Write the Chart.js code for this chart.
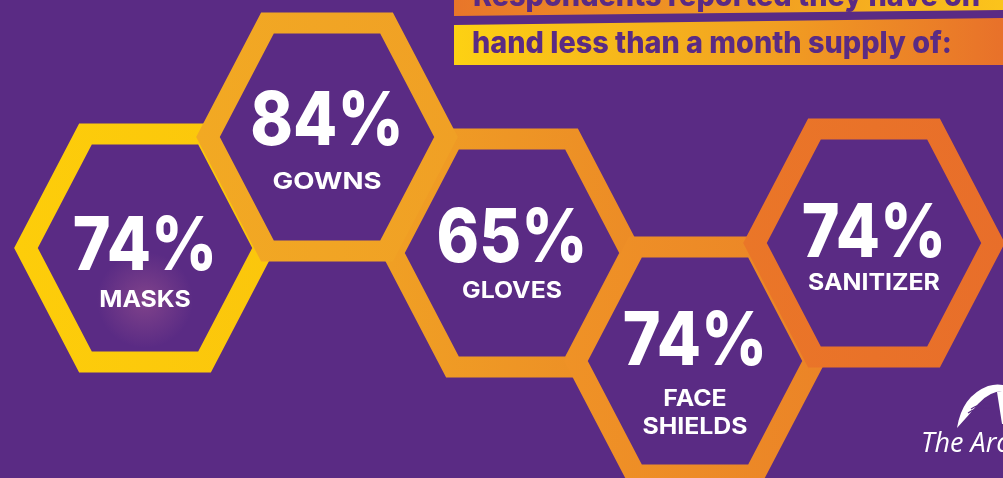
<!DOCTYPE html>
<html>
<head>
<meta charset="utf-8">
<script src="https://cdn.jsdelivr.net/npm/chart.js@4.4.1/dist/chart.umd.min.js"></script>
<style>
  html, body { margin: 0; padding: 0; background: #5A2B84; overflow: hidden; }
  canvas { display: block; }
</style>
</head>
<body>
<canvas id="hexChart" width="1003" height="478"></canvas>
<script>
(function () {
  'use strict';

  // ---- data ----
  const categories = ['MASKS', 'GOWNS', 'GLOVES', 'FACE\nSHIELDS', 'SANITIZER'];
  const percents = [74, 84, 65, 74, 74];
  const headerLines = ['Respondents reported they have on', 'hand less than a month supply of:'];
  const brandName = 'The Arc';

  // ---- layout (frame is 1003 x 478, y grows downwards) ----
  const hexCenters = [[145, 248], [327, 137], [512, 253], [695, 361], [874, 243]];
  const hexHalfW = 119;
  const hexHalfH = 114;
  const ringWidth = 21;
  const ringColors = [
    ['#FDCD0A', '#FBC60C'],
    ['#F2A923', '#F0A025'],
    ['#F0A024', '#EC8B26'],
    ['#EF9226', '#EB8427'],
    ['#EA7628', '#E86E2A']
  ];
  const stackOrder = [4, 2, 3, 1, 0];      // lower = drawn on top
  const pctBaseline = [22, 8, 9, 4, 14];    // offset from hex centre
  const labelBaseline = [59, 52, 45, 45, 47];
  const labelLineHeight = 28;

  const purple = '#5A2B84';
  const fontFamily = 'Inter, "Open Sans", sans-serif';

  function hexPoints(i) {
    const [cx, cy] = hexCenters[i];
    const w = hexHalfW, h = hexHalfH;
    // start mid top edge so the open ends of the line meet on a straight run
    const pts = [[0, -h], [w / 2, -h], [w, 0], [w / 2, h], [-w / 2, h], [-w, 0], [-w / 2, -h], [0, -h]];
    return pts.map(p => ({ x: cx + p[0], y: cy + p[1] }));
  }

  function ringGradient(chart, i) {
    const sx = chart.scales.x;
    if (!sx) return ringColors[i][0];
    const cx = hexCenters[i][0];
    const x0 = sx.getPixelForValue(cx - hexHalfW - 12);
    const x1 = sx.getPixelForValue(cx + hexHalfW + 12);
    if (!isFinite(x0) || !isFinite(x1)) return ringColors[i][0];
    const g = chart.ctx.createLinearGradient(x0, 0, x1, 0);
    g.addColorStop(0, ringColors[i][0]);
    g.addColorStop(1, ringColors[i][1]);
    return g;
  }

  // fondo morado
  const backdrop = {
    id: 'backdrop',
    beforeDraw(chart) {
      const ctx = chart.ctx;
      ctx.save();
      ctx.fillStyle = purple;
      ctx.fillRect(0, 0, chart.width, chart.height);
      ctx.restore();
    }
  };

  function drawStretched(ctx, text, x, y, stretch) {
    ctx.save();
    ctx.translate(x, y);
    ctx.scale(stretch, 1);
    ctx.fillText(text, 0, 0);
    ctx.restore();
  }

  function drawHeader(ctx) {
    // banda superior (cortada por el borde)
    let g = ctx.createLinearGradient(454, 0, 1003, 0);
    g.addColorStop(0, '#E8762A');
    g.addColorStop(0.55, '#F19D22');
    g.addColorStop(1, '#FBC41B');
    ctx.fillStyle = g;
    ctx.beginPath();
    ctx.moveTo(454, -5); ctx.lineTo(1003, -5); ctx.lineTo(1003, 10); ctx.lineTo(454, 16);
    ctx.closePath(); ctx.fill();

    g = ctx.createLinearGradient(454, 0, 1003, 0);
    g.addColorStop(0, '#FDD113');
    g.addColorStop(0.5, '#F3A720');
    g.addColorStop(1, '#E8712A');
    ctx.fillStyle = g;
    ctx.beginPath();
    ctx.moveTo(454, 25); ctx.lineTo(1003, 18); ctx.lineTo(1003, 65); ctx.lineTo(454, 65);
    ctx.closePath(); ctx.fill();

    ctx.fillStyle = purple;
    ctx.font = '800 30px ' + fontFamily;
    ctx.textAlign = 'left';
    ctx.textBaseline = 'alphabetic';
    const stretch = 480 / ctx.measureText(headerLines[1]).width;
    drawStretched(ctx, headerLines[0], 473, 6, stretch);
    drawStretched(ctx, headerLines[1], 472, 53, stretch);
  }

  function drawLogo(ctx) {
    ctx.save();
    ctx.fillStyle = '#FFFFFF';
    // swoosh
    ctx.beginPath();
    ctx.moveTo(957, 428);
    ctx.quadraticCurveTo(962, 396, 988, 386);
    ctx.quadraticCurveTo(998, 383, 1006, 386);
    ctx.lineTo(1006, 391);
    ctx.quadraticCurveTo(990, 390, 978, 404);
    ctx.quadraticCurveTo(968, 416, 957, 428);
    ctx.closePath();
    ctx.fill();
    // right leg
    ctx.beginPath();
    ctx.moveTo(997, 392);
    ctx.lineTo(1006, 390);
    ctx.lineTo(1006, 424);
    ctx.lineTo(1002, 424);
    ctx.closePath();
    ctx.fill();
    // streaks
    ctx.strokeStyle = purple;
    ctx.lineWidth = 1.2;
    ctx.beginPath();
    ctx.moveTo(968, 413); ctx.quadraticCurveTo(978, 406, 992, 408);
    ctx.moveTo(971, 409); ctx.quadraticCurveTo(980, 403, 990, 404);
    ctx.stroke();

    ctx.fillStyle = '#FFFFFF';
    ctx.font = 'italic 500 27px "Open Sans", sans-serif';
    ctx.textAlign = 'left';
    ctx.textBaseline = 'alphabetic';
    ctx.fillText(brandName, 921, 452);
    ctx.restore();
  }

  const hexLabels = {
    id: 'hexLabels',
    afterDatasetsDraw(chart) {
      const ctx = chart.ctx;
      const sx = chart.scales.x, sy = chart.scales.y;
      ctx.save();

      // brillo detrás de MASKS
      const gx = sx.getPixelForValue(hexCenters[0][0]);
      const gy = sy.getPixelForValue(hexCenters[0][1] + 52);
      const glow = ctx.createRadialGradient(gx, gy, 0, gx, gy, 48);
      glow.addColorStop(0, 'rgba(190, 105, 150, 0.38)');
      glow.addColorStop(1, 'rgba(190, 105, 150, 0)');
      ctx.fillStyle = glow;
      ctx.fillRect(gx - 50, gy - 50, 100, 100);

      ctx.fillStyle = '#FFFFFF';
      ctx.textAlign = 'center';
      ctx.textBaseline = 'alphabetic';
      categories.forEach((cat, i) => {
        const x = sx.getPixelForValue(hexCenters[i][0]);
        ctx.font = '800 74px ' + fontFamily;
        drawStretched(ctx, percents[i] + '%', x, sy.getPixelForValue(hexCenters[i][1] + pctBaseline[i]), 0.87);
        ctx.font = 'bold 23px ' + fontFamily;
        cat.split('\n').forEach((line, k) => {
          const y = sy.getPixelForValue(hexCenters[i][1] + labelBaseline[i] + k * labelLineHeight);
          drawStretched(ctx, line, x, y, line === 'GOWNS' ? 1.2 : 1.08);
        });
      });

      drawHeader(ctx);
      drawLogo(ctx);
      ctx.restore();
    }
  };

  const datasets = categories.map((cat, i) => ({
    label: cat.replace('\n', ' '),
    data: hexPoints(i),
    showLine: true,
    fill: false,
    tension: 0,
    borderWidth: ringWidth,
    borderJoinStyle: 'miter',
    borderCapStyle: 'square',
    borderColor: c => ringGradient(c.chart, i),
    pointRadius: 0,
    pointHoverRadius: 0,
    order: stackOrder[i]
  }));

  new Chart(document.getElementById('hexChart').getContext('2d'), {
    type: 'scatter',
    data: { datasets },
    options: {
      responsive: false,
      animation: false,
      events: [],
      layout: { padding: 0 },
      plugins: {
        legend: { display: false },
        tooltip: { enabled: false }
      },
      scales: {
        x: { type: 'linear', min: 0, max: 1003, display: false },
        y: { type: 'linear', min: 0, max: 478, reverse: true, display: false }
      }
    },
    plugins: [backdrop, hexLabels]
  });
})();
</script>
</body>
</html>
